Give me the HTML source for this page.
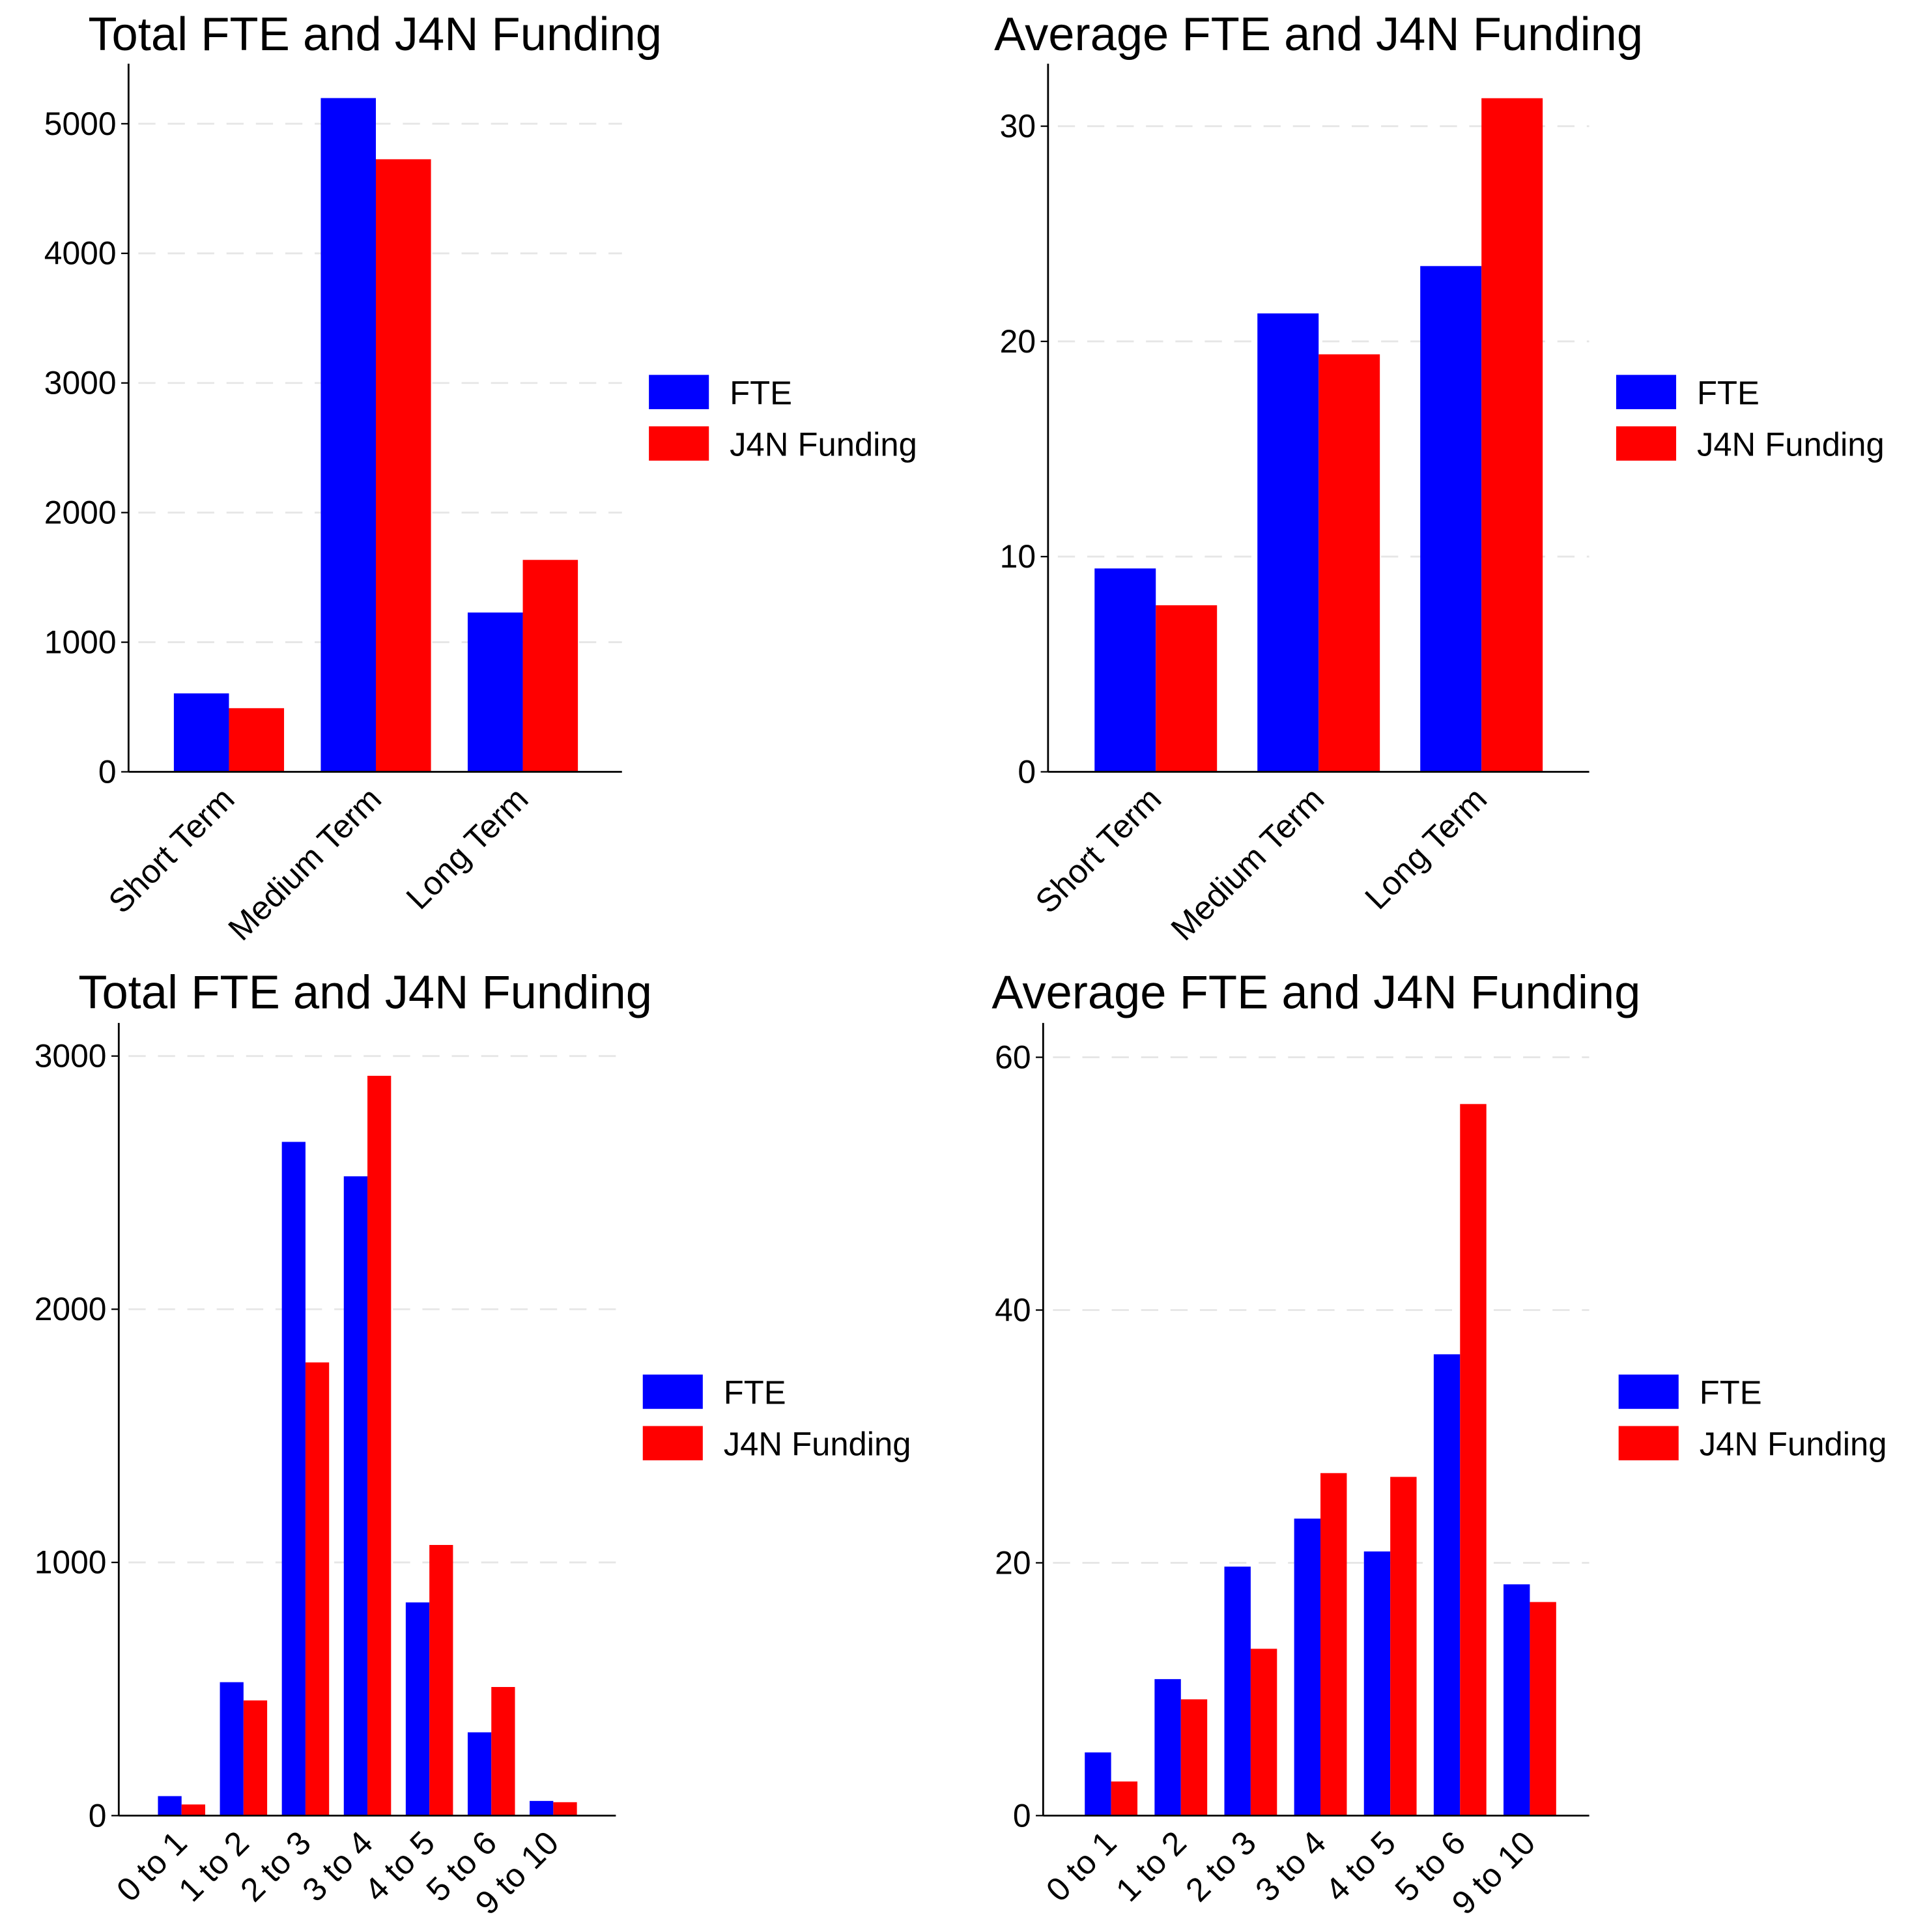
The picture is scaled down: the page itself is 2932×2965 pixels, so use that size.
<!DOCTYPE html>
<html><head><meta charset="utf-8"><style>
html,body{margin:0;padding:0;background:#fff;}
svg{display:block;font-family:"Liberation Sans",Arial,sans-serif;}
</style></head><body>
<svg id="c" width="2932" height="2965" viewBox="0 0 1560 1577" preserveAspectRatio="none" xmlns="http://www.w3.org/2000/svg"></svg>
<script>
const termCats = ["Short Term","Medium Term","Long Term"];
const totalTermFTE = [605, 5198, 1229];
const totalTermJ4N = [491, 4726, 1635];
const totalTermTicks = [0,1000,2000,3000,4000,5000];
const avgTermFTE = [9.45, 21.3, 23.5];
const avgTermJ4N = [7.74, 19.4, 31.3];
const avgTermTicks = [0,10,20,30];
const rangeCats = ["0 to 1","1 to 2","2 to 3","3 to 4","4 to 5","5 to 6","9 to 10"];
const totalRangeFTE = [77, 527, 2661, 2525, 842, 329, 58];
const totalRangeJ4N = [44, 455, 1790, 2922, 1069, 508, 53];
const totalRangeTicks = [0,1000,2000,3000];
const avgRangeFTE = [5.0, 10.8, 19.7, 23.5, 20.9, 36.5, 18.3];
const avgRangeJ4N = [2.7, 9.2, 13.2, 27.1, 26.8, 56.3, 16.9];
const avgRangeTicks = [0,20,40,60];

const NS="http://www.w3.org/2000/svg";
const svg=document.getElementById('c');
function mk(tag,attrs,parent){const e=document.createElementNS(NS,tag);for(const k in attrs)e.setAttribute(k,attrs[k]);(parent||svg).appendChild(e);return e;}

function chart(cfg,cats,fte,j4n,ticks){
  const g=mk('g',{});
  
  
  const maxT=ticks[ticks.length-1];
  const y=v=>cfg.bottom-(v/maxT)*(cfg.bottom-cfg.topTick);
  const t=mk('text',{x:cfg.titleX,y:cfg.titleY,'font-size':38.5,fill:'#000'},g);
  t.textContent=cfg.title;
  
  
  ticks.forEach(v=>{
    if(v>0){const gl=mk('line',{x1:cfg.ax+8,x2:cfg.right,y1:y(v),y2:y(v),stroke:'#e6e6e6','stroke-width':1.5,'stroke-dasharray':'14,10'},g);
      
      }
    mk('line',{x1:cfg.ax-6,x2:cfg.ax,y1:y(v),y2:y(v),stroke:'#000','stroke-width':1.2},g);
    const tl=mk('text',{x:cfg.ax-10,y:y(v)+9,'font-size':26.5,'text-anchor':'end',fill:'#000'},g);
    tl.textContent=String(v);
    
    
  });
  cats.forEach((c,i)=>{
    const x0=cfg.first+i*cfg.step;
    const b1=mk('rect',{x:x0,y:y(fte[i]),width:cfg.bw,height:cfg.bottom-y(fte[i]),fill:'#0000ff'},g);
    
    
    const b2=mk('rect',{x:x0+cfg.bw,y:y(j4n[i]),width:cfg.bw,height:cfg.bottom-y(j4n[i]),fill:'#ff0000'},g);
    
    
    const cx=x0+cfg.bw+6, cy=cfg.bottom+24;
    const xl=mk('text',{x:cx,y:cy,'font-size':27,'text-anchor':'end',transform:`rotate(-45 ${cx} ${cy})`,fill:'#000'},g);
    xl.textContent=c;
    
    
  });
  mk('line',{x1:cfg.ax,x2:cfg.ax,y1:cfg.axTop,y2:cfg.bottom,stroke:'#000','stroke-width':1.5},g);
  mk('line',{x1:cfg.ax,x2:cfg.right,y1:cfg.bottom,y2:cfg.bottom,stroke:'#000','stroke-width':1.5},g);
  const lg=mk('g',{},g);
  
  
  [['FTE','#0000ff',0],['J4N Funding','#ff0000',42]].forEach(([n,col,dy])=>{
    mk('rect',{x:cfg.lx,y:cfg.ly+dy,width:49,height:28,fill:col},lg);
    const lt=mk('text',{x:cfg.lx+66,y:cfg.ly+dy+24,'font-size':27,fill:'#000'},lg);
    lt.textContent=n;
    
    
  });
}
chart({name:'total-term-chart',title:'Total FTE and J4N Funding',titleX:72,titleY:41,ax:105,axTop:52,bottom:630,topTick:101,right:508,first:142,step:120,bw:45,lx:530,ly:306},termCats,totalTermFTE,totalTermJ4N,totalTermTicks);
chart({name:'average-term-chart',title:'Average FTE and J4N Funding',titleX:812,titleY:41,ax:856,axTop:52,bottom:630,topTick:103,right:1298,first:894,step:133,bw:50,lx:1320,ly:306},termCats,avgTermFTE,avgTermJ4N,avgTermTicks);
chart({name:'total-range-chart',title:'Total FTE and J4N Funding',titleX:64,titleY:823,ax:97,axTop:835,bottom:1482,topTick:862,right:503,first:129,step:50.6,bw:19.3,lx:525,ly:1122},rangeCats,totalRangeFTE,totalRangeJ4N,totalRangeTicks);
chart({name:'average-range-chart',title:'Average FTE and J4N Funding',titleX:810,titleY:823,ax:852,axTop:835,bottom:1482,topTick:863,right:1298,first:886,step:57,bw:21.5,lx:1322,ly:1122},rangeCats,avgRangeFTE,avgRangeJ4N,avgRangeTicks);
</script>
</body></html>
